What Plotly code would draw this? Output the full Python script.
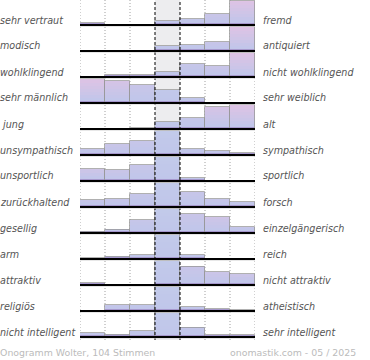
import plotly.graph_objects as go

# ---- data (relative vote heights per scale, 7 steps left->right) ----
left_labels = ["sehr vertraut", "modisch", "wohlklingend", "sehr männlich", " jung",
               "unsympathisch", "unsportlich", "zurückhaltend", "gesellig", "arm",
               "attraktiv", "religiös", "nicht intelligent"]
right_labels = ["fremd", "antiquiert", "nicht wohlklingend", "sehr weiblich", "alt",
                "sympathisch", "sportlich", "forsch", "einzelgängerisch", "reich",
                "nicht attraktiv", "atheistisch", "sehr intelligent"]

vertraut_fremd = [2, 0, 0, 4, 6, 11, 24]
modisch_antiquiert = [0, 0, 0, 5, 6, 9, 24]
wohlklingend_nicht = [0, 2, 2, 5, 13, 11, 24]
maennlich_weiblich = [24, 22, 18, 13, 5, 0, 0]
jung_alt = [0, 0, 1, 7, 11, 22, 24]
unsympathisch_sympathisch = [6, 11, 14, 24, 6, 4, 2]
unsportlich_sportlich = [12, 11, 16, 24, 3, 0, 0]
zurueckhaltend_forsch = [7, 8, 13, 24, 15, 8, 5]
gesellig_einzelgaenger = [1.5, 3.5, 13.5, 24, 19, 16.5, 6]
arm_reich = [1, 2.5, 4.5, 24, 4, 0, 0]
attraktiv_nicht = [2, 0, 0, 24, 18.5, 13, 11]
religioes_atheistisch = [0, 6, 6, 24, 4, 2, 1]
intelligent_nicht = [4.5, 2.5, 6, 24, 9.5, 2, 2]

rows = [vertraut_fremd, modisch_antiquiert, wohlklingend_nicht, maennlich_weiblich,
        jung_alt, unsympathisch_sympathisch, unsportlich_sportlich, zurueckhaltend_forsch,
        gesellig_einzelgaenger, arm_reich, attraktiv_nicht, religioes_atheistisch,
        intelligent_nicht]

footer_left = "Onogramm Wolter, 104 Stimmen"
footer_right = "onomastik.com - 05 / 2025"

# ---- geometry (y axis in pixel-like units) ----
PLOT_H = 340
PITCH = 26
FIRST = 25
MAXH = 24
PLOT_W = 175
n = len(rows)
bases = [PLOT_H - (FIRST + PITCH * i) for i in range(n)]

def hex2rgb(h):
    h = h.lstrip("#")
    return tuple(int(h[k:k + 2], 16) for k in (0, 2, 4))

def lerp(c1, c2, t):
    a, b = hex2rgb(c1), hex2rgb(c2)
    return "rgb(%d,%d,%d)" % tuple(round(a[k] + (b[k] - a[k]) * t) for k in range(3))

bottom_col = "#c0c6ea"
strip_col = "#a597cc"
top_cols = ["#dfc3e4", "#d8c3e5", "#ccc5e8", "#c2caea", "#ccc5e8", "#d8c3e5", "#dfc3e4"]

heights = []
for r in rows:
    m = max(r)
    heights.append([v / m * MAXH for v in r])

fig = go.Figure()

# gradient slices
bounds = [0, 2, 5, 8, 11, 14, 17, 20, 23, 26]
for s in range(len(bounds) - 1):
    lo, hi = bounds[s], bounds[s + 1]
    xs, ys, bs, cs = [], [], [], []
    for i in range(n):
        for c in range(7):
            h = heights[i][c]
            seg = max(0.0, min(h, hi) - lo)
            if seg <= 0:
                continue
            xs.append(c + 0.5)
            ys.append(seg)
            bs.append(bases[i] + lo)
            if s == 0:
                cs.append(strip_col)
            else:
                t = min(1.0, max(0.0, ((lo + hi) / 2 - 2) / 22))
                cs.append(lerp(bottom_col, top_cols[c], t))
    fig.add_trace(go.Bar(x=xs, y=ys, base=bs, width=1,
                         marker=dict(color=cs, line=dict(width=0)),
                         hoverinfo="skip", showlegend=False))

# outlines
ox, oy, ob = [], [], []
for i in range(n):
    for c in range(7):
        h = heights[i][c]
        if h > 0:
            ox.append(c + 0.5)
            oy.append(h)
            ob.append(bases[i])
fig.add_trace(go.Bar(x=ox, y=oy, base=ob, width=1,
                     marker=dict(color="rgba(0,0,0,0)",
                                 line=dict(color="rgba(150,150,150,0.75)", width=1)),
                     hoverinfo="skip", showlegend=False))

shapes = []
shapes.append(dict(type="rect", xref="x", yref="y", x0=3, x1=4, y0=0, y1=PLOT_H,
                   fillcolor="#ededef", line=dict(width=0), layer="below"))
for gx in [0, 1, 2, 5, 6, 7]:
    shapes.append(dict(type="line", xref="x", yref="y", x0=gx, x1=gx, y0=0, y1=PLOT_H,
                       line=dict(color="#a0a0a0", width=1, dash="1px,2px"), layer="below"))
for gx in [3, 4]:
    shapes.append(dict(type="line", xref="x", yref="y", x0=gx, x1=gx, y0=0, y1=PLOT_H,
                       line=dict(color="#000000", width=1, dash="3px,2px"), layer="above"))
for b in bases:
    shapes.append(dict(type="line", xref="x", yref="y", x0=0, x1=7, y0=b - 1, y1=b - 1,
                       line=dict(color="#cfcfcf", width=1), layer="above"))
    shapes.append(dict(type="line", xref="x", yref="y", x0=0, x1=7, y0=b, y1=b,
                       line=dict(color="#000000", width=2), layer="above"))

annotations = []
lab_font = dict(family="DejaVu Sans", size=9.6, color="#555555", style="italic")
for i in range(n):
    yc = (bases[i] + 5) / PLOT_H
    annotations.append(dict(x=-82 / PLOT_W, y=yc, xref="paper", yref="paper",
                            text=left_labels[i], xanchor="left", yanchor="middle",
                            showarrow=False, font=lab_font))
    annotations.append(dict(x=181 / PLOT_W, y=yc, xref="paper", yref="paper",
                            text=right_labels[i], xanchor="left", yanchor="middle",
                            showarrow=False, font=lab_font))
foot_font = dict(family="DejaVu Sans", size=9.4, color="#bbbbbb")
annotations.append(dict(x=-82 / PLOT_W, y=-12 / PLOT_H, xref="paper", yref="paper",
                        text=footer_left, xanchor="left", yanchor="middle",
                        showarrow=False, font=foot_font))
annotations.append(dict(x=278 / PLOT_W, y=-12 / PLOT_H, xref="paper", yref="paper",
                        text=footer_right, xanchor="right", yanchor="middle",
                        showarrow=False, font=foot_font))

fig.update_layout(
    width=370, height=360,
    margin=dict(l=80, r=115, t=0, b=20, pad=0),
    paper_bgcolor="white", plot_bgcolor="rgba(0,0,0,0)",
    barmode="overlay", bargap=0,
    xaxis=dict(range=[0, 7], visible=False, fixedrange=True),
    yaxis=dict(range=[0, PLOT_H], visible=False, fixedrange=True),
    shapes=shapes, annotations=annotations,
    showlegend=False,
)

fig.write_html("out.html", config={"displayModeBar": False},
               post_script="document.body.style.margin='0';document.body.style.padding='0';")
